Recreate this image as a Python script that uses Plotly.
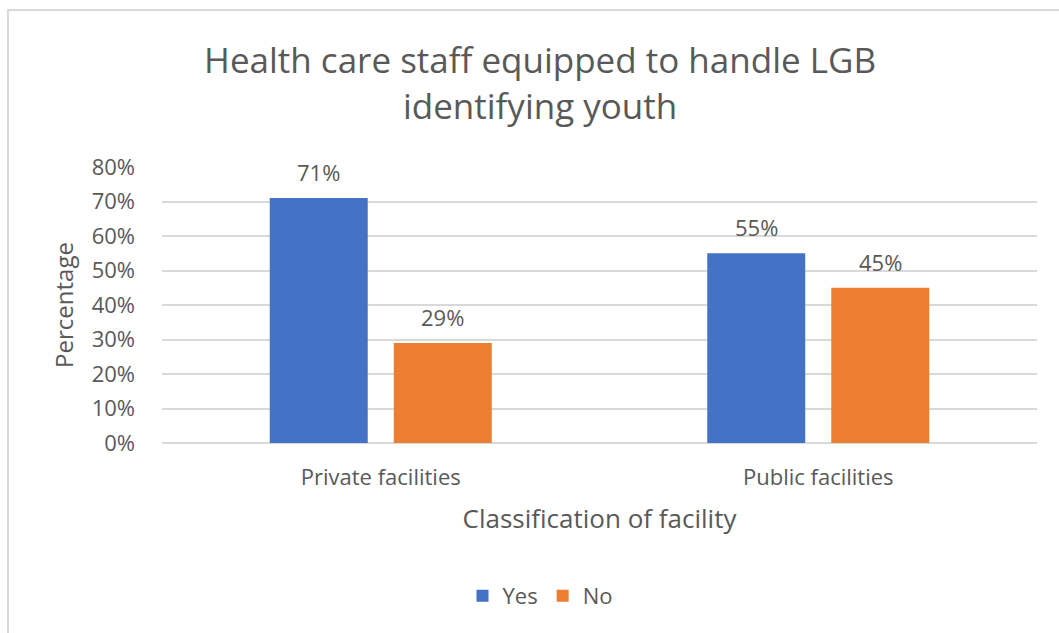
import plotly.graph_objects as go

categories = ["Private facilities", "Public facilities"]
yes_values = [71, 55]
no_values = [29, 45]
y_ticks = [0, 10, 20, 30, 40, 50, 60, 70, 80]
y_tick_labels = [f"{v}%" for v in y_ticks]

font_family = "Open Sans, Noto Sans, sans-serif"
text_grey = "#595959"

W, H = 1059, 633
ml, mr, mt, mb = 162, 22, 167, 190
pw, ph = W - ml - mr, H - mt - mb

# bar geometry: each category gets pw/2 pixels
bargap = 0.433
bargroupgap = 0.21
slot_px = (1 - bargap) * (pw / len(categories)) / 2


def px_x(p):
    return (p - ml) / pw


def px_y(p):
    return (H - mb - p) / ph


fig = go.Figure()
fig.add_trace(go.Bar(
    name="Yes", x=categories, y=yes_values,
    marker=dict(color="#4472C4", line=dict(width=0)),
))
fig.add_trace(go.Bar(
    name="No", x=categories, y=no_values,
    marker=dict(color="#ED7D31", line=dict(width=0)),
))

# value labels above each bar
for offset, values in ((-slot_px / 2, yes_values), (slot_px / 2, no_values)):
    for cat, v in zip(categories, values):
        fig.add_annotation(
            x=cat, y=v, xref="x", yref="y", text=f"{v}%", showarrow=False,
            xshift=offset, yshift=26, yanchor="middle",
            font=dict(size=22, color=text_grey, family=font_family),
        )

fig.update_layout(
    width=W, height=H,
    margin=dict(l=ml, r=mr, t=mt, b=mb),
    paper_bgcolor="white", plot_bgcolor="white",
    barmode="group", bargap=bargap, bargroupgap=bargroupgap,
    font=dict(family=font_family, color=text_grey),
    title=dict(
        text="Health care staff equipped to handle LGB<br>identifying youth",
        x=0.51, xanchor="center", y=1 - 73 / H, yanchor="middle",
        font=dict(size=35, color=text_grey, family=font_family),
    ),
    xaxis=dict(
        showgrid=False, showline=False, ticks="",
        tickfont=dict(size=22, color=text_grey), ticklabelstandoff=19,
        title=dict(text="Classification of facility", font=dict(size=26, color=text_grey), standoff=19),
    ),
    yaxis=dict(
        range=[0, 80], tickvals=y_ticks, ticktext=y_tick_labels,
        showgrid=True, gridcolor="#d9d9d9", gridwidth=2,
        zeroline=True, zerolinecolor="#d9d9d9", zerolinewidth=2,
        showline=False, ticks="", ticklabelstandoff=26,
        tickfont=dict(size=22, color=text_grey),
        title=dict(text="Percentage", font=dict(size=24, color=text_grey), standoff=11),
    ),
    legend=dict(
        orientation="h", x=0.432, xanchor="center", y=px_y(596), yanchor="middle",
        font=dict(size=22, color=text_grey), itemwidth=30, traceorder="normal",
    ),
    showlegend=True,
)

# chart frame
fig.add_shape(
    type="rect", xref="paper", yref="paper",
    x0=px_x(8), x1=px_x(1070), y0=px_y(650), y1=px_y(10),
    line=dict(color="#d9d9d9", width=2), fillcolor="rgba(0,0,0,0)", layer="below",
)

fig.write_html("out.html")
